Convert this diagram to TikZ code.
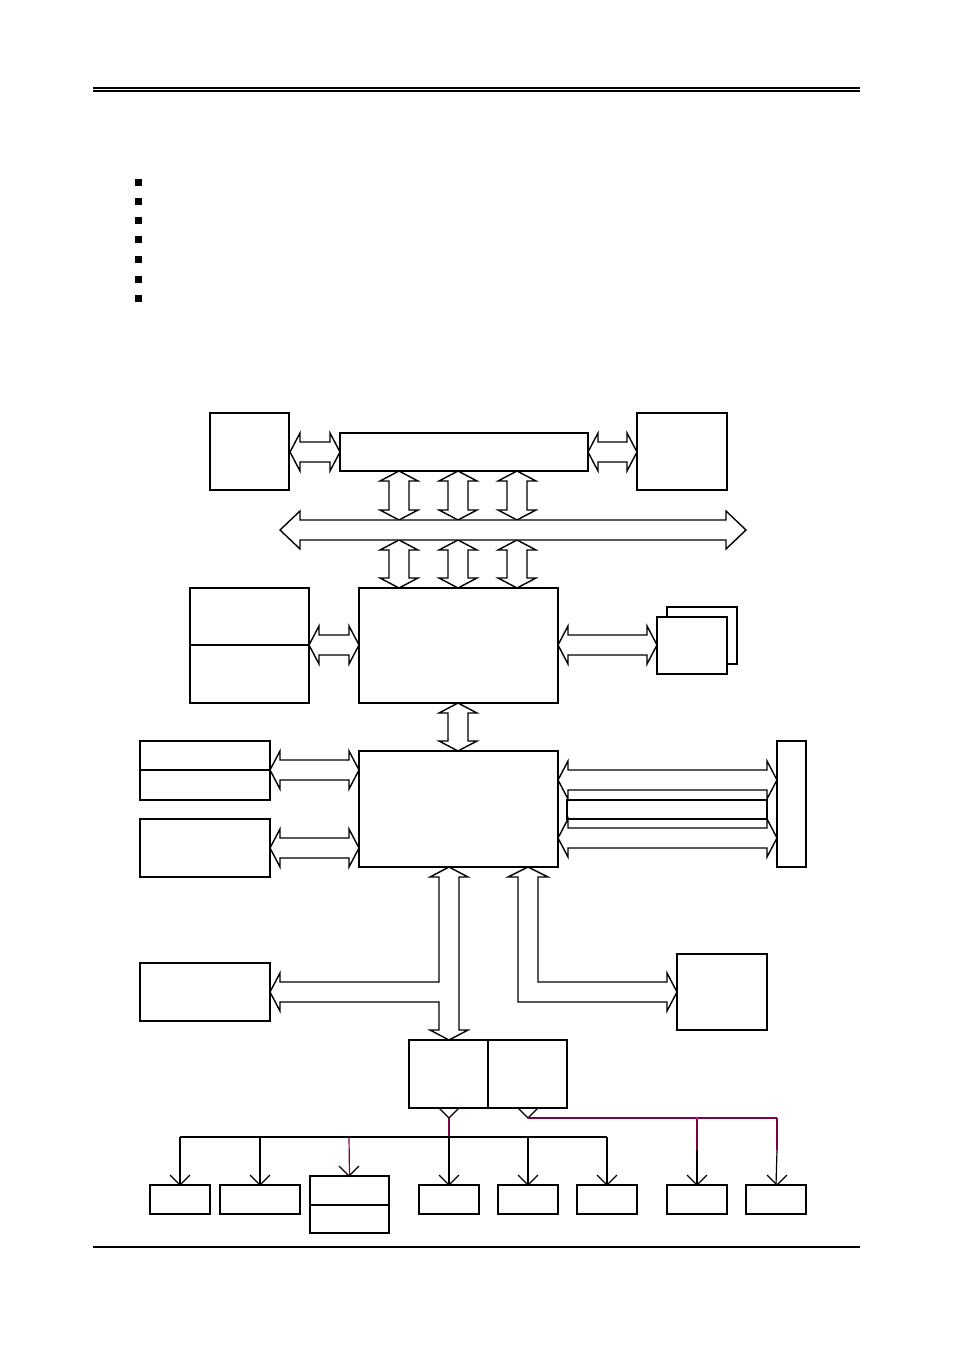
\documentclass[tikz,border=0pt]{standalone}
\definecolor{wire}{RGB}{128,0,64}
\newcommand\bx[5]{\node[box,minimum width={(#4-#2)*0.5pt},minimum height={(#5-#3)*0.5pt}] (#1) at ({(#2+#4)/2},{(#3+#5)/2}) {};}
\newcommand\hda[3]{\draw[fat] (#1,#3) -- (#1+10,#3-19) -- (#1+10,#3-10) -- (#2-10,#3-10) -- (#2-10,#3-19) -- (#2,#3) -- (#2-10,#3+19) -- (#2-10,#3+10) -- (#1+10,#3+10) -- (#1+10,#3+19) -- cycle;}
\newcommand\vda[3]{\draw[fat] (#1,#2) -- (#1+19,#2+10) -- (#1+10,#2+10) -- (#1+10,#3-10) -- (#1+19,#3-10) -- (#1,#3) -- (#1-19,#3-10) -- (#1-10,#3-10) -- (#1-10,#2+10) -- (#1-19,#2+10) -- cycle;}
\newcommand\vtip[2]{\draw (#1-10,#2-10) -- (#1,#2) -- (#1+10,#2-10);}
\begin{document}
\begin{tikzpicture}[x=0.5pt,y=-0.5pt,line join=miter,
  box/.style={draw,line width=0.7pt,inner sep=0pt,outer sep=0pt},
  fat/.style={draw,line width=0.7pt,fill=white},
  every path/.style={line width=0.6pt}]
\useasboundingbox (0,0) rectangle (954,1348);
\draw (93,88) -- (860,88); \draw (93,91) -- (860,91);
\draw (93,1247) -- (860,1247);
\foreach \y in {183,202,221,240,259,279,298} \fill (134.5,\y-3.5) rectangle +(7,7);
\bx{A}{210}{413}{289}{490}
\bx{B}{340}{433}{588}{471}
\bx{C}{637}{413}{727}{490}
\hda{290}{340}{452}
\hda{588}{637}{452}
\foreach \x in {399,458,517}{\vda{\x}{471}{520}\vda{\x}{540}{588}}
\draw[fat] (280,530) -- (300,511) -- (300,520) -- (726,520) -- (726,511) -- (746,530) -- (726,549) -- (726,540) -- (300,540) -- (300,549) -- cycle;
\bx{D}{359}{588}{558}{703}
\bx{E}{190}{588}{309}{703}
\draw (190,645) -- (309,645);
\hda{309}{359}{645}
\hda{558}{657}{645}
\bx{AGP2}{667}{607}{737}{664}
\node[box,fill=white,minimum width=35pt,minimum height=28.5pt] (AGP) at (692,645.5) {};
\vda{458}{703}{751}
\bx{F}{359}{751}{558}{867}
\bx{G}{140}{741}{270}{800}
\draw (140,770) -- (270,770);
\bx{H}{140}{819}{270}{877}
\hda{270}{359}{770}
\hda{270}{359}{848}
\bx{I}{777}{741}{806}{867}
\draw[fat] (567,800) rectangle (767,819);
\hda{558}{777}{780}
\hda{558}{777}{838}
\bx{J}{140}{963}{270}{1021}
\bx{K}{677}{954}{767}{1030}
\bx{L}{409}{1040}{567}{1108}
\draw (488,1040) -- (488,1108);
\draw[fat] (449,867) -- (468,877) -- (459,877) -- (459,1030) -- (468,1030) -- (449,1040) -- (430,1030) -- (439,1030) -- (439,1002) -- (280,1002) -- (280,1011) -- (270,992) -- (280,973) -- (280,982) -- (439,982) -- (439,877) -- (430,877) -- cycle;
\draw[fat] (528,867) -- (548,877) -- (538,877) -- (538,982) -- (667,982) -- (667,973) -- (677,992) -- (667,1011) -- (667,1002) -- (518,1002) -- (518,877) -- (508,877) -- cycle;
\vtip{449}{1118}\vtip{528}{1118}
\draw[wire] (449,1118) -- (449,1137);
\draw (180,1137) -- (607,1137);
\bx{P1}{150}{1185}{210}{1214}
\bx{P2}{220}{1185}{300}{1214}
\bx{P3}{310}{1176}{389}{1233}
\draw (310,1205) -- (389,1205);
\bx{P4}{419}{1185}{479}{1214}
\bx{P5}{498}{1185}{558}{1214}
\bx{P6}{577}{1185}{637}{1214}
\bx{P7}{667}{1185}{727}{1214}
\bx{P8}{746}{1185}{806}{1214}
\draw[line width=1pt] (180,1137) -- (P1.north); \vtip{180}{1185}
\draw (260,1137) -- (P2.north); \vtip{260}{1185}
\draw[wire] (349,1137) -- (P3.north); \vtip{349}{1176}
\draw[line width=1pt] (449,1137) -- (P4.north); \vtip{449}{1185}
\draw (528,1137) -- (P5.north); \vtip{528}{1185}
\draw (607,1137) -- (P6.north); \vtip{607}{1185}
\draw[wire] (528,1118) -- (777,1118);
\draw[wire] (697,1118) -- (697,1150); \draw (697,1150) -- (P7.north); \vtip{697}{1185}
\draw[wire] (777,1118) -- (777,1150); \draw (777,1150) -- (P8.north); \vtip{777}{1185}
\fill[magenta] (697,1118) circle (1.5);
\end{tikzpicture}
\end{document}
